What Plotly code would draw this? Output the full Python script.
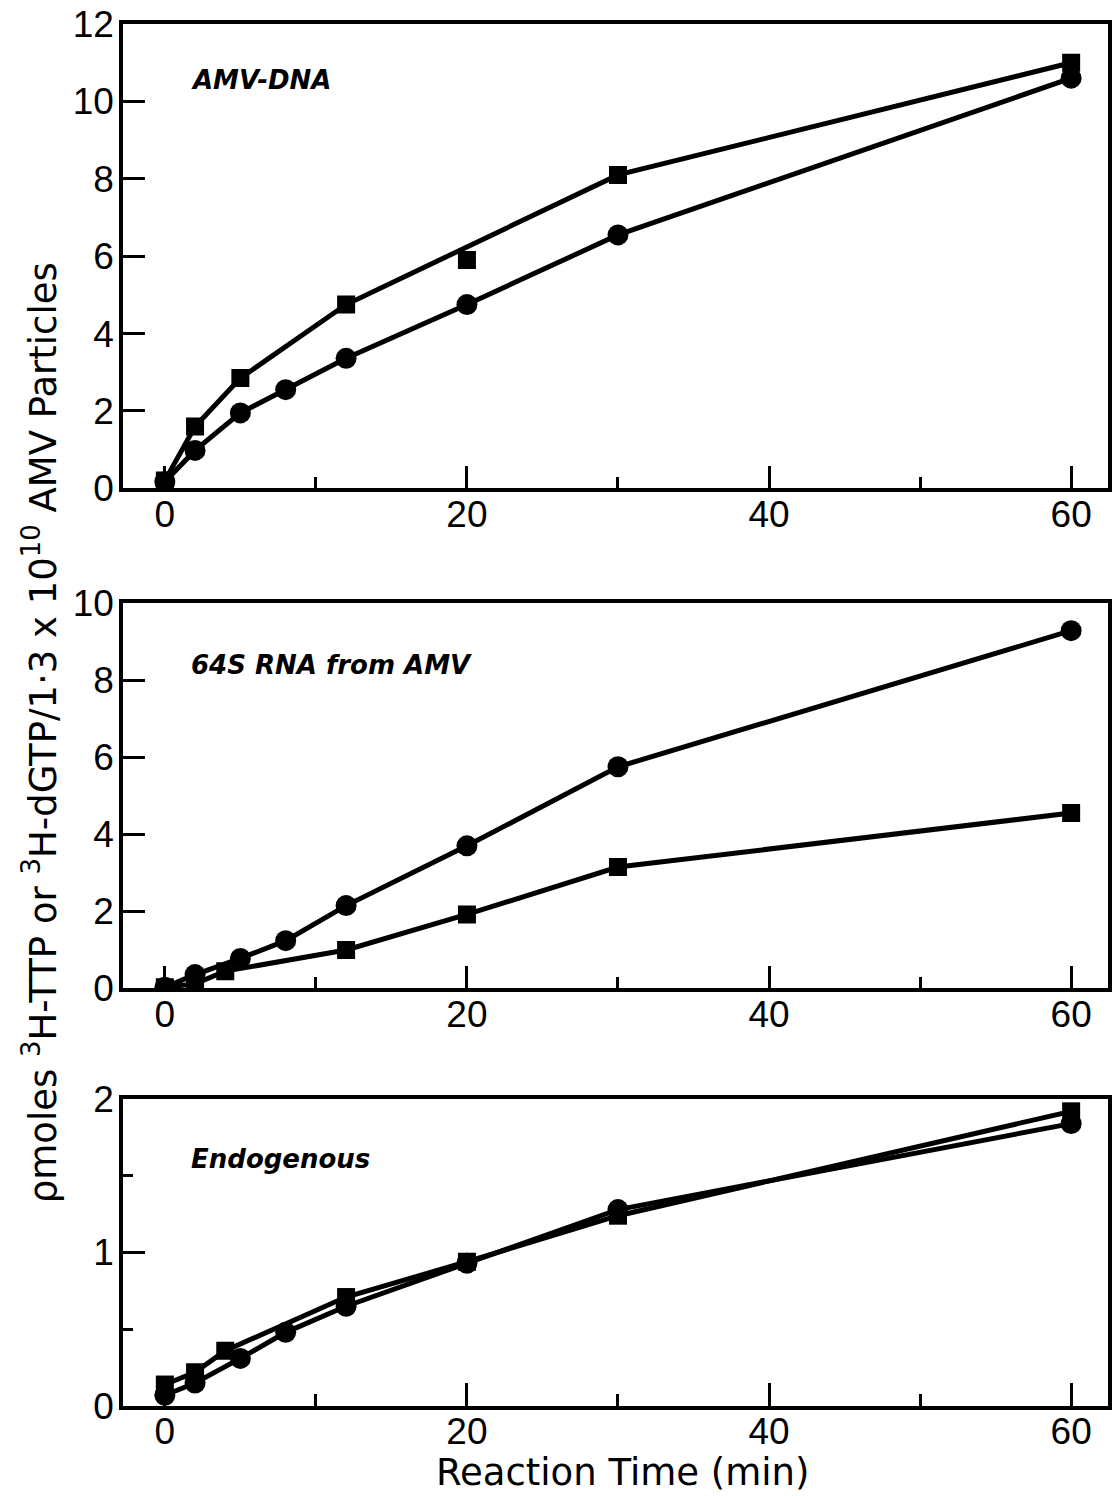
import plotly.graph_objects as go

# Reaction time points (min)
t_amv_dna_sq = [0, 2, 5, 12, 20, 30, 60]
v_amv_dna_sq = [0.2, 1.6, 2.85, 4.75, 5.9, 8.1, 11.0]
# the 20-min square lies off the drawn curve
t_amv_dna_sq_line = [0, 2, 5, 12, 30, 60]
v_amv_dna_sq_line = [0.2, 1.6, 2.85, 4.75, 8.1, 11.0]
t_amv_dna_ci = [0, 2, 5, 8, 12, 20, 30, 60]
v_amv_dna_ci = [0.17, 0.98, 1.95, 2.55, 3.36, 4.75, 6.55, 10.6]

t_rna_ci = [0, 2, 5, 8, 12, 20, 30, 60]
v_rna_ci = [0.03, 0.36, 0.78, 1.24, 2.15, 3.7, 5.75, 9.28]
t_rna_sq = [0, 2, 4, 12, 20, 30, 60]
v_rna_sq = [0.03, 0.12, 0.45, 1.0, 1.92, 3.15, 4.55]

t_endo_sq = [0, 2, 4, 12, 20, 30, 60]
v_endo_sq = [0.14, 0.22, 0.36, 0.71, 0.94, 1.24, 1.92]
t_endo_ci = [0, 2, 5, 8, 12, 20, 30, 60]
v_endo_ci = [0.07, 0.15, 0.31, 0.48, 0.65, 0.93, 1.28, 1.84]

panel_labels = ["AMV-DNA", "64S RNA from AMV", "Endogenous"]
x_ticks = [0, 20, 40, 60]
x_minor = [10, 30, 50]
y_ticks_1 = [0, 2, 4, 6, 8, 10, 12]
y_ticks_2 = [0, 2, 4, 6, 8, 10]
y_ticks_3 = [0, 1, 2]
y_minor_3 = [0.5, 1.5]

BLACK = "#000000"
LW = 5
TICK_FONT = dict(family="Liberation Sans", size=37, color=BLACK)

fig = go.Figure()


def add_series(t, v, symbol, size, xa, ya, mode="lines+markers"):
    fig.add_trace(go.Scatter(
        x=t, y=v, mode=mode, xaxis=xa, yaxis=ya, showlegend=False,
        line=dict(color=BLACK, width=LW),
        marker=dict(symbol=symbol, size=size, color=BLACK,
                    line=dict(width=0)),
    ))


# Panel 1: AMV-DNA
add_series(t_amv_dna_sq_line, v_amv_dna_sq_line, "square", 18, "x", "y", "lines")
add_series(t_amv_dna_sq, v_amv_dna_sq, "square", 18, "x", "y", "markers")
add_series(t_amv_dna_ci, v_amv_dna_ci, "circle", 21, "x", "y")

# Panel 2: 64S RNA
add_series(t_rna_sq, v_rna_sq, "square", 18, "x2", "y2")
add_series(t_rna_ci, v_rna_ci, "circle", 21, "x2", "y2")

# Panel 3: Endogenous
add_series(t_endo_sq, v_endo_sq, "square", 18, "x3", "y3")
add_series(t_endo_ci, v_endo_ci, "circle", 21, "x3", "y3")

x_range = [-2.77, 62.44]


def xaxis(anchor):
    return dict(
        domain=[0, 1], anchor=anchor, range=x_range,
        tickvals=x_ticks, ticktext=[str(v) for v in x_ticks],
        ticks="inside", ticklen=23, tickwidth=3, tickcolor=BLACK,
        minor=dict(tickvals=x_minor, ticks="inside", ticklen=12,
                   tickwidth=3, tickcolor=BLACK),
        showline=True, linecolor=BLACK, linewidth=3.5, mirror=True,
        showgrid=False, zeroline=False, tickfont=TICK_FONT,
        ticklabelstandoff=-10,
    )


def yaxis(anchor, domain, rng, ticks, minor=None):
    d = dict(
        domain=domain, anchor=anchor, range=rng,
        tickvals=ticks, ticktext=[str(v) for v in ticks],
        ticks="inside", ticklen=22, tickwidth=3, tickcolor=BLACK,
        showline=True, linecolor=BLACK, linewidth=3.5, mirror=True,
        showgrid=False, zeroline=False, tickfont=TICK_FONT,
        ticklabelstandoff=-2,
    )
    if minor:
        d["minor"] = dict(tickvals=minor, ticks="inside", ticklen=10,
                          tickwidth=3, tickcolor=BLACK)
    return d


fig.update_layout(
    width=1116, height=1496,
    margin=dict(l=123, r=4, t=19, b=90),
    paper_bgcolor="white", plot_bgcolor="white",
    xaxis=xaxis("y"), xaxis2=xaxis("y2"), xaxis3=xaxis("y3"),
    yaxis=yaxis("x", [0.664, 1.0], [0, 12], y_ticks_1),
    yaxis2=yaxis("x2", [0.3021, 0.5811], [0, 10], y_ticks_2),
    yaxis3=yaxis("x3", [0.0, 0.2221], [0, 2], y_ticks_3, y_minor_3),
)

LABEL_FONT = dict(family="DejaVu Sans", size=26, color=BLACK)
label_pos = [("x domain", "y domain", 0.88),
             ("x2 domain", "y2 domain", 0.84),
             ("x3 domain", "y3 domain", 0.805)]
for text, (xr, yr, yy) in zip(panel_labels, label_pos):
    fig.add_annotation(text=f"<b><i>{text}</i></b>", xref=xr, yref=yr,
                       x=0.067, y=yy, xanchor="left", yanchor="middle",
                       showarrow=False, font=LABEL_FONT)

fig.add_annotation(
    text="Reaction Time (min)", xref="paper", yref="paper",
    x=0.5076, y=-0.0483, xanchor="center", yanchor="middle",
    showarrow=False, font=dict(family="DejaVu Sans", size=37, color=BLACK),
)
fig.add_annotation(
    text="ρmoles <sup>3</sup>H-TTP or <sup>3</sup>H-dGTP/1·3 x 10<sup>10</sup> AMV Particles",
    xref="paper", yref="paper", x=-0.083, y=0.487, textangle=-90,
    xanchor="center", yanchor="middle", showarrow=False,
    font=dict(family="DejaVu Sans", size=37, color=BLACK),
)

fig.write_html("out.html")
